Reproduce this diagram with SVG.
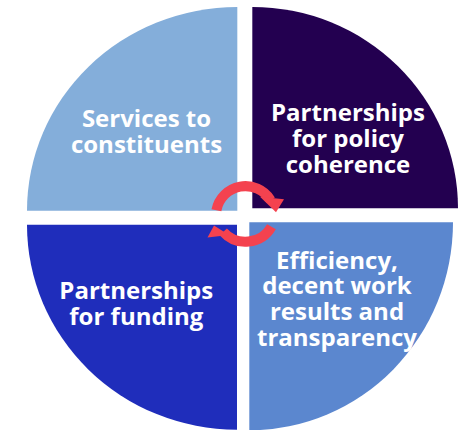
<svg xmlns="http://www.w3.org/2000/svg" width="459" height="430" viewBox="0 0 459 430">
<style>
.lbl{font-family:"Open Sans","Noto Sans","DejaVu Sans",sans-serif;font-weight:700;font-size:24px;fill:#ffffff;text-anchor:middle}
.arc{fill:none;stroke:#F4424F;stroke-width:10}
.head{fill:#F4424F}
</style>
<rect width="459" height="430" fill="#ffffff"/>
<g id="services">
<path d="M237.3,210.7 L27,210.7 A210.3,203.7 0 0 1 237.3,7 Z" fill="#84AEDA"/>
<text class="lbl"><tspan x="146.5" y="126.7">Services to</tspan><tspan x="146.5" y="152.7">constituents</tspan></text>
</g>
<g id="policy">
<path d="M252.3,208.3 L252.3,7 A205.7,201.3 0 0 1 458,208.3 Z" fill="#230050"/>
<text class="lbl"><tspan x="348" y="120.7">Partnerships</tspan><tspan x="348" y="146.7">for policy</tspan><tspan x="348" y="172.7">coherence</tspan></text>
</g>
<g id="funding">
<path d="M237,224.7 L27,224.7 A210,205 0 0 0 237,429.7 Z" fill="#1F2DBB"/>
<text class="lbl"><tspan x="136.3" y="299.3">Partnerships</tspan><tspan x="136.3" y="325">for funding</tspan></text>
</g>
<g id="efficiency">
<path d="M249.3,222.3 L453,222.3 A203.7,208 0 0 1 249.3,430.3 Z" fill="#5B87CF"/>
<text class="lbl"><tspan x="337" y="268.5">Efficiency,</tspan><tspan x="337" y="294.3">decent work</tspan><tspan x="337" y="320.3">results and</tspan><tspan x="337" y="346">transparency</tspan></text>
</g>
<g id="connectors">
<path class="arc" d="M216.4,210.2 A29.6,29.6 0 0 1 270.6,200.1"/>
<polygon class="head" points="260,196.7 284,199.3 276,212.3"/>
<path class="arc" d="M271.5,226.7 A30,30 0 0 1 223.2,231.8"/>
<polygon class="head" points="214,225.5 207.5,237.5 229,235"/>
</g>
</svg>
